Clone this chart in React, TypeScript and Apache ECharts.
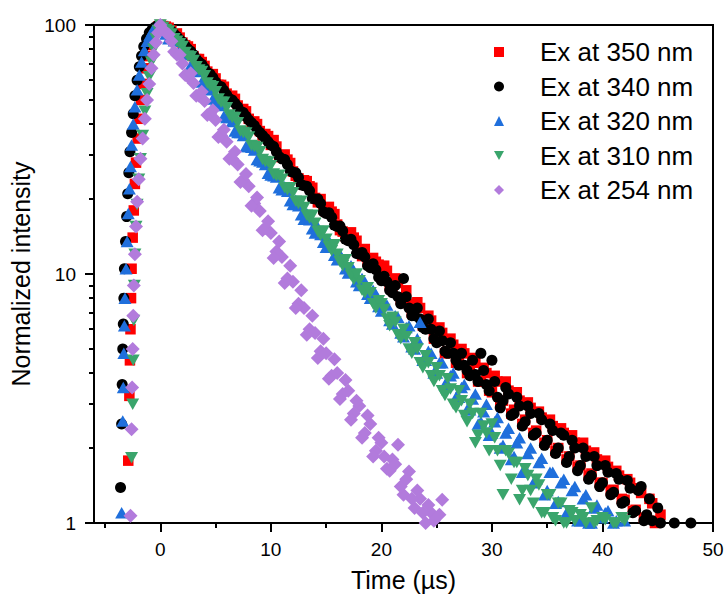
import React, { useEffect, useRef } from "react";
import * as echarts from "echarts";

const FONT = '"Liberation Sans", Arial, Helvetica, sans-serif';

const seriesNames = ["Ex at 350 nm", "Ex at 340 nm", "Ex at 320 nm", "Ex at 310 nm", "Ex at 254 nm"];
const seriesColors = ["#ff0000", "#000000", "#1f6fdc", "#3aa56c", "#b27bdc"];

const xMajorTicks = [0, 10, 20, 30, 40, 50];
const xMinorTicks = [-5, 5, 15, 25, 35, 45];
const yMinorTicks = [2, 3, 4, 5, 6, 7, 8, 9, 20, 30, 40, 50, 60, 70, 80, 90];

// decay sampling times (µs), two interleaved sets
const decayTimes = [
  0, 0.5, 1, 1.5, 2, 2.5, 3, 3.5, 4, 4.5, 5, 5.5, 6, 6.5, 7, 7.5, 8, 8.5, 9, 9.5,
  10, 10.5, 11, 11.5, 12, 12.5, 13, 13.5, 14, 14.5, 15, 15.5, 16, 16.5, 17, 17.5, 18, 18.5, 19, 19.5,
  20, 20.5, 21, 21.5, 22, 22.5, 23, 23.5, 24, 24.5, 25, 25.5, 26, 26.5, 27, 27.5, 28, 28.5, 29, 29.5,
  30, 30.5, 31, 31.5, 32, 32.5, 33, 33.5, 34, 34.5, 35, 35.5, 36, 36.5, 37, 37.5, 38, 38.5, 39, 39.5,
  40, 40.5, 41, 41.5, 42, 42.5, 43, 43.5, 44, 44.5, 45, 45.5, 46, 46.5, 47, 47.5, 48,
];
const decayTimesB = [
  0.25, 0.75, 1.25, 1.75, 2.25, 2.75, 3.25, 3.75, 4.25, 4.75, 5.25, 5.75, 6.25, 6.75, 7.25, 7.75, 8.25, 8.75, 9.25, 9.75,
  10.25, 10.75, 11.25, 11.75, 12.25, 12.75, 13.25, 13.75, 14.25, 14.75, 15.25, 15.75, 16.25, 16.75, 17.25, 17.75, 18.25, 18.75, 19.25, 19.75,
  20.25, 20.75, 21.25, 21.75, 22.25, 22.75, 23.25, 23.75, 24.25, 24.75, 25.25, 25.75, 26.25, 26.75, 27.25, 27.75, 28.25, 28.75, 29.25, 29.75,
  30.25, 30.75, 31.25, 31.75, 32.25, 32.75, 33.25, 33.75, 34.25, 34.75, 35.25, 35.75, 36.25, 36.75, 37.25, 37.75, 38.25, 38.75, 39.25, 39.75,
  40.25, 40.75, 41.25, 41.75, 42.25, 42.75, 43.25, 43.75, 44.25, 44.75, 45.25, 45.75, 46.25, 46.75, 47.25, 47.75,
];

// rising edges: [time, intensity]
const riseRed = [[-2.9, 1.78], [-2.8, 3.24], [-2.75, 4.5], [-2.7, 6], [-2.65, 8], [-2.6, 10.5], [-2.5, 14], [-2.4, 18], [-2.3, 23], [-2.2, 28], [-2.05, 35], [-1.9, 42], [-1.75, 50], [-1.55, 58], [-1.35, 67], [-1.15, 75], [-0.9, 83], [-0.65, 90], [-0.4, 95], [-0.2, 98.5]];
const riseBlack = [[-3.6, 1.39], [-3.5, 2.5], [-3.45, 3.6], [-3.4, 5.0], [-3.35, 6.3], [-3.3, 8.0], [-3.25, 10.5], [-3.15, 13.5], [-3.05, 17], [-2.95, 21], [-2.85, 25.5], [-2.75, 31], [-2.6, 37], [-2.45, 44], [-2.3, 52], [-2.1, 60], [-1.9, 68], [-1.7, 75], [-1.5, 82], [-1.25, 88], [-1.0, 93], [-0.75, 96], [-0.5, 98], [-0.25, 99.5]];
const riseBlue = [[-3.5, 1.1], [-3.4, 2.57], [-3.35, 3.5], [-3.3, 4.8], [-3.25, 6.2], [-3.2, 8], [-3.1, 10.5], [-3.0, 13.5], [-2.9, 17.5], [-2.8, 22], [-2.7, 27], [-2.6, 33], [-2.45, 40], [-2.3, 47], [-2.1, 55], [-1.9, 63], [-1.7, 71], [-1.45, 79], [-1.2, 86], [-0.95, 91], [-0.7, 95], [-0.45, 97.5], [-0.2, 99]];
const riseGreen = [[-2.6, 1.83], [-2.5, 3], [-2.45, 4.5], [-2.4, 6.5], [-2.35, 9], [-2.3, 12], [-2.2, 15.5], [-2.1, 19], [-1.95, 24], [-1.8, 29], [-1.6, 36], [-1.4, 45], [-1.2, 53], [-1.0, 62], [-0.8, 71], [-0.6, 80], [-0.4, 88], [-0.2, 95]];
const risePurple = [[-2.7, 1.07], [-2.6, 2.38], [-2.55, 3.5], [-2.5, 5], [-2.45, 6.8], [-2.4, 9], [-2.3, 12], [-2.2, 15.5], [-2.1, 19.5], [-1.95, 24], [-1.8, 29], [-1.6, 35], [-1.4, 42], [-1.2, 50], [-1.0, 58], [-0.8, 67], [-0.6, 76], [-0.4, 85], [-0.2, 93]];

// decay values aligned with decayTimes / decayTimesB (null = no visible point)
const decayRed = [
  100, 98.5, 95, 92.5, 85, 82, 75, 73, 68.5, 63, 61, 57.5, 53, 52, 47.5, 46, 42, 41, 37.5, 36.5,
  33, 32.5, 29.5, 28.8, 25.8, 24.2, 23.8, 22.5, 20.2, 20.0, 17.8, 17.8, 15.8, 14.8, 14.6, 14.0, 12.3, 12.6, 11.0, 11.2,
  9.9, 10.3, 8.9, 9.2, 7.9, 7.6, 7.5, 7.3, 6.2, 6.5, 5.5, 5.8, 4.9, 5.2, 4.4, 4.8, 4.1, 4.4, 3.7, 4.0,
  3.35, 3.7, 3.1, 3.4, 2.85, 3.1, 2.6, 2.9, 2.35, 2.65, 2.15, 2.45, 2.0, 2.3, 1.85, 2.1, 1.7, 1.95, 1.58, 1.8,
  1.45, 1.68, 1.36, 1.55, 1.24, 1.45, 1.13, 1.32, 1.05, 1.2, 1.02,
];
const decayRedB = [
  99, 97.5, 91.5, 89, 83, 80, 73, 71, 65, 63.5, 57.5, 56.5, 51.5, 50.5, 45.5, 45, 40.5, 40, 36, 35.8,
  34.5, 29.5, 30.2, 27.9, 24.8, 23.2, 23.6, 22.2, 19.4, 18.2, 18.6, 17.4, 15.0, 14.2, 14.7, 13.6, 11.8, 11.2, 11.6, 10.9,
  10.8, 9.0, 9.6, 7.9, 8.6, 7.0, 7.7, 6.2, 6.8, 5.5, 6.1, 4.8, 5.5, 4.4, 5.0, 4.0, 4.6, 3.7, 4.2, 3.4,
  3.9, 3.0, 3.7, 2.75, 3.35, 2.5, 3.05, 2.3, 2.8, 2.1, 2.6, 1.95, 2.4, 1.8, 2.25, 1.68, 2.1, 1.55, 1.92, 1.45,
  1.78, 1.35, 1.62, 1.25, 1.5, 1.12, 1.38, 1.05, 1.25, 1.0, 1.08,
];
const decayBlack = [
  100, 97, 94.5, 90, 85.5, 80, 76, 71, 67, 63.5, 59, 56.5, 52.5, 50, 47, 44.5, 41.5, 39.5, 37, 35,
  33, 31, 29, 27.5, 25.6, 24.4, 22.6, 21.6, 20, 19.2, 17.5, 16.9, 15.5, 14.9, 13.6, 13.1, 12.0, 11.7, 10.6, 10.4,
  9.4, 9.3, 8.4, 8.1, 9.6, 7.3, 6.8, 6.6, 6.0, 6.0, 5.3, 5.4, 4.8, 4.8, 4.3, 4.3, 3.9, 3.95, 4.8, 3.6,
  4.5, 3.2, 3.1, 3.3, 2.75, 2.95, 2.55, 2.75, 2.3, 2.6, 2.15, 2.35, 2.0, 2.25, 1.85, 2.0, 1.7, 1.85, 1.55, 1.7,
  1.45, 1.6, 1.33, 1.5, 1.22, 1.38, 1.12, 1.4, 1.08, 1.02, 1.15, null, null, 1.0, null, null, 1.0,
];
const decayBlackB = [
  98.5, 95.5, 92, 87.5, 82.5, 78.5, 73, 69.5, 64.5, 61.5, 57, 54.5, 50.5, 48.5, 45, 43, 40.5, 38, 36, 34,
  32.5, 29.6, 28.8, 26.0, 25.5, 22.8, 22.5, 20.1, 20.0, 17.8, 17.6, 15.7, 15.6, 13.8, 13.8, 12.1, 12.2, 10.8, 11.0, 9.7,
  9.8, 8.6, 9.0, 7.6, 8.1, 6.8, 7.3, 6.1, 6.6, 5.5, 5.9, 4.9, 5.3, 4.5, 4.8, 4.1, 4.5, 3.7, 4.1, 3.4,
  3.7, 2.9, 3.5, 2.7, 3.2, 2.45, 2.95, 2.25, 2.75, 2.05, 2.5, 1.9, 2.3, 1.75, 2.15, 1.62, 2.0, 1.5, 1.85, 1.4,
  1.7, 1.3, 1.58, 1.2, 1.48, 1.1, 1.35, 1.02, 1.25, null, 1.0,
];
const decayBlue = [
  97, 92, 89, 86, 78, 76, 68, 65, 58, 55, 49, 47.5, 42.5, 41, 37, 36, 32.5, 31.5, 28.5, 27.5,
  25, 24.5, 21.8, 21.5, 19, 18.8, 16.6, 16.5, 14.6, 14.4, 12.8, 12.9, 11.4, 11.5, 10.1, 10.3, 9.0, 9.3, 8.0, 8.3,
  7.1, 7.5, 6.3, 6.7, 5.6, 6.2, 5.0, 6.4, 4.5, 4.8, 4.0, 4.4, 3.6, 4.0, 3.2, 3.6, 2.85, 3.3, 2.55, 3.0,
  2.3, 2.65, 2.05, 2.4, 1.85, 2.2, 1.65, 2.0, 1.5, 1.82, 1.35, 1.6, 1.22, 1.5, 1.08, 1.4, 1.02, 1.3, 1.0, 1.18,
  1.05, 1.12, 1.0, null, 1.02,
];
const decayBlueB = [
  95, 88, 86.5, 79, 78, 69, 67.5, 59, 57.5, 50.5, 48.5, 43, 42.5, 37.5, 37, 32.5, 32.3, 28.8, 28.2, 25.4,
  24.8, 22.2, 22.4, 19.7, 19.8, 17.3, 17.5, 15.2, 15.4, 13.4, 13.6, 11.9, 12.0, 10.5, 10.8, 9.3, 9.6, 8.3, 8.6, 7.4,
  7.6, 6.5, 6.8, 5.8, 6.1, 5.1, 5.5, 4.5, 4.9, 4.0, 4.4, 3.6, 3.9, 3.2, 3.5, 2.85, 3.15, 2.5, 2.8, 2.25,
  2.55, 2.0, 2.3, 1.8, 2.1, 1.6, 1.9, 1.45, 1.75, 1.3, 1.6, 1.2, 1.45, 1.1, 1.35, 1.02, 1.25, 1.0, 1.15, null,
  1.1, null, 1.02,
];
const decayGreen = [
  100, 96, 92, 86, 82, 75, 72, 66, 62.5, 57, 54, 49, 46.5, 42.5, 40.5, 37, 35.5, 32.5, 31, 28.3,
  27.2, 24.8, 24, 21.8, 21.2, 19.2, 18.5, 16.8, 16.0, 14.3, 13.8, 12.4, 12.0, 10.8, 10.6, 9.5, 9.4, 8.4, 8.4, 7.3,
  7.6, 6.6, 6.7, 5.7, 6.0, 5.0, 5.3, 4.4, 4.7, 3.9, 4.2, 3.4, 3.8, 3.0, 3.4, 2.7, 3.0, 2.1, 2.75, 2.3,
  2.5, 1.95, 1.3, 1.9, 1.75, 1.24, 1.65, 1.35, 1.5, 1.1, 1.3, 1.05, 1.2, 1.0, 1.12, 1.02, 1.08, 1.0, 1.15, 1.02,
  1.05, null, 1.0, null, 1.02,
];
const decayGreenB = [
  98, 94.5, 88, 84, 77.5, 74.5, 68, 65, 58.5, 56.5, 50.5, 49, 43.5, 42.5, 37.5, 36.8, 32.8, 32.2, 28.8, 28.2,
  25.2, 24.9, 22.2, 22.2, 19.6, 19.6, 17.2, 17.2, 14.8, 14.9, 12.9, 13.1, 11.2, 11.4, 9.9, 10.0, 8.6, 8.8, 7.6, 7.8,
  7.2, 6.2, 6.4, 5.5, 5.6, 4.8, 5.0, 4.2, 4.4, 3.7, 3.9, 3.25, 3.45, 2.9, 3.1, 2.55, 2.75, 2.25, 2.45, 1.95,
  2.2, 1.7, 1.95, 1.5, 1.75, 1.35, 1.55, 1.2, 1.42, 1.1, 1.3, 1.02, 1.2, 1.0, 1.1, null, 1.05, null, 1.0, null,
  1.03, null, 1.0, 1.05,
];
const decayPurple = [
  100, 93, 86, 76, 70, 62, 58.5, 52, 49.5, 44, 41.5, 36, 34, 29, 27.5, 23.8, 22.5, 19.2, 17.9, 15.3,
  14.6, 12.3, 11.7, 9.6, 9.3, 7.6, 7.3, 6.0, 5.8, 4.9, 4.8, 3.9, 4.0, 3.3, 3.4, 2.75, 2.95, 2.3, 2.5, 1.95,
  2.1, 1.65, 1.8, 2.06, 1.3, 1.61, 1.15, 1.25, 1.0, 1.1, null, 1.24,
];
const decayPurpleB = [
  96, 91.5, 78, 76, 63, 64, 52, 54, 43.5, 45.5, 35.5, 38, 29, 31, 23.4, 25.2, 18.8, 20.3, 15, 16.3,
  11.6, 13.5, 9.2, 10.8, 7.3, 8.6, 5.7, 6.8, 4.6, 5.5, 3.8, 4.55, 3.15, 3.75, 2.6, 3.1, 2.2, 2.7, 1.85, 2.2,
  1.85, 1.62, 1.72, 1.4, 1.5, 1.25, 1.35, 1.1, 1.18, 1.02, 1.08,
];

const rises = [riseRed, riseBlack, riseBlue, riseGreen, risePurple];
const decaysA = [decayRed, decayBlack, decayBlue, decayGreen, decayPurple];
const decaysB = [decayRedB, decayBlackB, decayBlueB, decayGreenB, decayPurpleB];
const symbols = ["rect", "circle", "triangle", "path://M0,0L10,0L5,9Z", "diamond"];
const symbolSizes: any[] = [10.5, 11, [13, 11.5], [13, 11.5], 14];

function buildPoints(rise: number[][], a: (number | null)[], b: (number | null)[]) {
  const pts: number[][] = rise.map((p) => [p[0], p[1]]);
  decayTimes.forEach((t, i) => {
    const v = a[i];
    if (v !== null && v !== undefined) pts.push([t, v]);
  });
  decayTimesB.forEach((t, i) => {
    const v = b[i];
    if (v !== null && v !== undefined) pts.push([t, v]);
  });
  return pts;
}

export default function App() {
  const ref = useRef<HTMLDivElement>(null);
  useEffect(() => {
    document.body.style.margin = "0";
    const chart = echarts.init(ref.current as HTMLDivElement, undefined, { renderer: "svg" });
    const axisLine = { show: true, onZero: false, lineStyle: { color: "#000", width: 2 } };
    const tickStyle = { color: "#000", width: 2 };
    const option: any = {
      animation: false,
      backgroundColor: "#ffffff",
      textStyle: { fontFamily: FONT },
      grid: {
        left: 94,
        right: 15,
        top: 25,
        bottom: 79,
        show: true,
        borderColor: "#000",
        borderWidth: 2,
        backgroundColor: "transparent",
        containLabel: false,
      },
      legend: {
        orient: "vertical",
        left: 494,
        top: 39,
        padding: 0,
        itemWidth: 10,
        itemHeight: 10,
        itemGap: 8.5,
        data: seriesNames,
        textStyle: { fontSize: 26, color: "#000", fontFamily: FONT, padding: [0, 0, 0, 31] },
        selectedMode: false,
      },
      xAxis: [
        {
          type: "value",
          min: -6,
          max: 50,
          position: "bottom",
          axisLine,
          axisTick: { show: true, customValues: xMajorTicks, length: 9, inside: false, lineStyle: tickStyle },
          axisLabel: { customValues: xMajorTicks, fontSize: 19, color: "#000", margin: 17, fontFamily: FONT },
          splitLine: { show: false },
          name: "Time (µs)",
          nameLocation: "middle",
          nameGap: 44,
          nameTextStyle: { fontSize: 25, color: "#000", fontFamily: FONT },
        },
        {
          type: "value",
          min: -6,
          max: 50,
          position: "bottom",
          axisLine: { show: false, onZero: false },
          axisTick: { show: true, customValues: xMinorTicks, length: 5, inside: false, lineStyle: tickStyle },
          axisLabel: { show: false },
          splitLine: { show: false },
        },
      ],
      yAxis: [
        {
          type: "log",
          logBase: 10,
          min: 1,
          max: 100,
          position: "left",
          axisLine,
          axisTick: { show: true, length: 9, inside: false, lineStyle: tickStyle },
          axisLabel: { fontSize: 19, color: "#000", margin: 18, fontFamily: FONT },
          splitLine: { show: false },
          minorTick: { show: false },
          name: "Normalized intensity",
          nameLocation: "middle",
          nameGap: 58,
          nameTextStyle: { fontSize: 25, color: "#000", fontFamily: FONT },
        },
        {
          type: "value",
          min: 0,
          max: 2,
          position: "left",
          axisLine: { show: false, onZero: false },
          axisTick: { show: true, customValues: yMinorTicks.map((v) => Math.log10(v)), length: 5, inside: false, lineStyle: tickStyle },
          axisLabel: { show: false },
          splitLine: { show: false },
        },
      ],
      series: seriesNames.map((name, i) => ({
        type: "scatter",
        name,
        xAxisIndex: 0,
        yAxisIndex: 0,
        data: buildPoints(rises[i], decaysA[i], decaysB[i]),
        symbol: symbols[i],
        symbolSize: symbolSizes[i],
        itemStyle: { color: seriesColors[i], opacity: 1 },
        clip: false,
        emphasis: { disabled: true },
      })),
    };
    chart.setOption(option);
    return () => chart.dispose();
  }, []);
  return <div ref={ref} style={{ width: 728, height: 602, position: "absolute", left: 0, top: 0 }} />;
}
